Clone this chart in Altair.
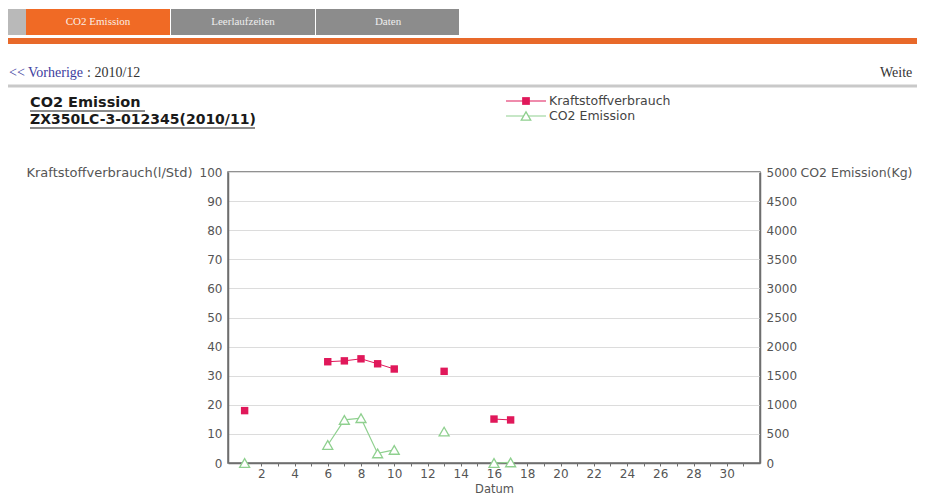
import altair as alt
import pandas as pd

# ---- data ----
fuel_days = [1, 6, 7, 8, 9, 10, 13, 16, 17]
fuel_values = [18.0, 34.8, 35.1, 35.8, 34.1, 32.3, 31.5, 15.1, 14.8]   # l/Std
co2_days = [1, 6, 7, 8, 9, 10, 13, 16, 17]
co2_values = [0, 310, 740, 770, 165, 225, 540, 0, 10]                 # Kg
x_ticks = list(range(1, 32))
left_ticks = list(range(0, 101, 10))
right_ticks = list(range(0, 5001, 500))

RED = "#e0185a"
GREEN = "#8fd08f"
AXC = "#6e6e6e"
LAB = "#555555"
FONT = "DejaVu Sans"
SERIF = "Liberation Serif"

df_f = pd.DataFrame({"day": fuel_days, "fuel": fuel_values})
df_f["seg"] = (df_f["day"].diff() != 1).cumsum()
df_c = pd.DataFrame({"day": co2_days, "co2": co2_values})
df_c["seg"] = (df_c["day"].diff() != 1).cumsum()

xscale = alt.Scale(domain=[0, 32], nice=False, zero=False)
xaxis = alt.Axis(values=x_ticks, labelExpr="datum.value % 2 == 0 ? datum.label : ''",
                 title="Datum", titleFontSize=11.5, titleFontWeight="normal", titleColor=LAB,
                 titleFont=FONT, titleY=29, titleBaseline="alphabetic",
                 labelFont=FONT, labelFontSize=12, labelColor=LAB, labelPadding=2,
                 tickSize=3, tickColor=AXC, domainColor=AXC, domainWidth=1.5, grid=False)
lscale = alt.Scale(domain=[0, 100], nice=False)
laxis = alt.Axis(values=left_ticks, format="d", title="Kraftstoffverbrauch(l/Std)", titleAngle=0,
                 titleAlign="right", titleBaseline="middle", titleX=-36, titleY=0,
                 titleFont=FONT, titleFontSize=13, titleFontWeight="normal", titleColor=LAB,
                 labelFont=FONT, labelFontSize=12, labelColor=LAB, labelPadding=6,
                 tickSize=0, domainColor=AXC, domainWidth=1.5,
                 grid=True, gridColor="#dcdcdc", gridWidth=1)
rscale = alt.Scale(domain=[0, 5000], nice=False)
raxis = alt.Axis(orient="right", values=right_ticks, format="d", title="CO2 Emission(Kg)",
                 titleAngle=0, titleAlign="left", titleBaseline="middle", titleX=40, titleY=0,
                 titleFont=FONT, titleFontSize=12.5, titleFontWeight="normal", titleColor=LAB,
                 labelFont=FONT, labelFontSize=12, labelColor=LAB, labelPadding=6,
                 tickSize=0, domainColor=AXC, domainWidth=1.5, grid=False)

X = alt.X("day:Q", scale=xscale, axis=xaxis)

fuel_line = alt.Chart(df_f).mark_line(color=RED, strokeWidth=1).encode(
    x=X, y=alt.Y("fuel:Q", scale=lscale, axis=laxis), detail="seg:N")
fuel_pts = alt.Chart(df_f).mark_square(color=RED, size=55, opacity=1).encode(
    x=X, y=alt.Y("fuel:Q", scale=lscale, axis=laxis))
fuel = alt.layer(fuel_line, fuel_pts)

co2_line = alt.Chart(df_c).mark_line(color=GREEN, strokeWidth=1.2).encode(
    x=X, y=alt.Y("co2:Q", scale=rscale, axis=raxis), detail="seg:N")
co2_pts = alt.Chart(df_c).mark_point(shape="triangle-up", size=100, filled=True, fill="white",
                                     stroke=GREEN, strokeWidth=1.3, opacity=1).encode(
    x=X, y=alt.Y("co2:Q", scale=rscale, axis=raxis))
co2 = alt.layer(co2_line, co2_pts)

one = alt.Data(values=[{}])


def rect(x, x2, y, y2, color):
    return alt.Chart(one).mark_rect(color=color, opacity=1).encode(
        x=alt.value(x), x2=alt.value(x2), y=alt.value(y), y2=alt.value(y2))


def txt(s, x, y, size=12, color=LAB, font=FONT, align="left", weight="normal"):
    return alt.Chart(one).mark_text(text=s, fontSize=size, color=color, font=font,
                                    align=align, baseline="middle", fontWeight=weight).encode(
        x=alt.value(x), y=alt.value(y))


def hline(x, x2, y, color, w):
    return alt.Chart(one).mark_rule(color=color, strokeWidth=w).encode(
        x=alt.value(x), x2=alt.value(x2), y=alt.value(y))


decor = [
    # tab bar
    rect(-220, -202, -163, -137, "#b9b9b9"),
    rect(-202, -58, -163, -137, "#f06a25"),
    rect(-57, 87, -163, -137, "#8c8c8c"),
    rect(88, 231, -163, -137, "#8c8c8c"),
    txt("CO2 Emission", -130, -150, size=11, color="#fbeee4", font=SERIF, align="center"),
    txt("Leerlaufzeiten", 15, -150, size=11, color="#eeeeee", font=SERIF, align="center"),
    txt("Daten", 160, -150, size=11, color="#eeeeee", font=SERIF, align="center"),
    rect(-220, 700, -134, -128, "#e8692a"),
    # navigation row
    txt("<< Vorherige", -219, -99, size=14, color="#3d3d9e", font=SERIF),
    txt(": 2010/12", -141, -99, size=14, color="#333333", font=SERIF),
    txt("Weite", 652, -99, size=14, color="#333333", font=SERIF),
    hline(-220, 700, -86, "#c9c9c9", 3),
    # chart title (underlined)
    txt("CO2 Emission", -198, -69, size=14.5, color="#1a1a1a", weight="bold"),
    hline(-198, -83, -61, "#1a1a1a", 1.2),
    txt("ZX350LC-3-012345(2010/11)", -198, -52, size=14, color="#1a1a1a", weight="bold"),
    hline(-198, 27, -44, "#1a1a1a", 1.2),
    # legend
    hline(278, 318, -71, RED, 1.2),
    alt.Chart(one).mark_square(color=RED, size=60, opacity=1).encode(
        x=alt.value(298), y=alt.value(-71)),
    txt("Kraftstoffverbrauch", 321, -71, size=12.5, color="#444444"),
    hline(278, 318, -56, GREEN, 1.2),
    alt.Chart(one).mark_point(shape="triangle-up", size=90, filled=True, fill="white",
                              stroke=GREEN, strokeWidth=1.3, opacity=1).encode(
        x=alt.value(298), y=alt.value(-56)),
    txt("CO2 Emission", 321, -56, size=12.5, color="#444444"),
]

chart = alt.layer(fuel, co2, *decor).resolve_scale(y="independent").properties(
    width=532, height=291,
    autosize=alt.AutoSizeParams(type="none"),
    padding={"left": 220, "top": 164, "right": 157, "bottom": 33},
    background="white",
).configure_view(stroke=AXC, strokeWidth=1.5)

chart.save("out.html", embed_options={"renderer": "svg", "actions": False})
